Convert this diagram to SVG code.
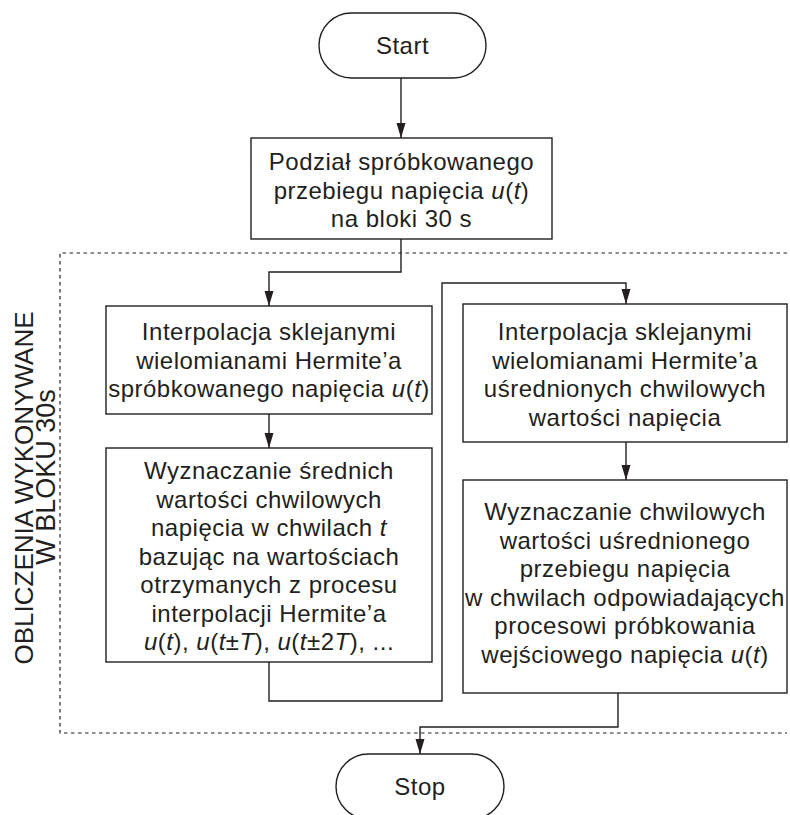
<svg xmlns="http://www.w3.org/2000/svg" width="790" height="815" viewBox="0 0 790 815">
  <defs>
    <marker id="arrow" markerUnits="userSpaceOnUse" markerWidth="15" markerHeight="10" refX="15" refY="4.5" orient="auto">
      <path d="M0,0 L15,4.5 L0,9 z" fill="#231f20"/>
    </marker>
    <style>
      .box { fill: #ffffff; stroke: #231f20; stroke-width: 1.4; }
      .link { fill: none; stroke: #231f20; stroke-width: 1.4; }
      .frame { fill: none; stroke: #231f20; stroke-width: 1.2; stroke-dasharray: 3.5 3.5; }
      .t { font-family: "Liberation Sans", Arial, sans-serif; font-size: 24px; letter-spacing: 0.5px; fill: #231f20; text-anchor: middle; }
      .side { font-family: "Liberation Sans", Arial, sans-serif; fill: #231f20; text-anchor: middle; }
      .i { font-style: italic; }
    </style>
  </defs>

  <rect width="790" height="815" fill="#ffffff"/>

  <!-- frame around the per-block computations -->
  <g id="block-frame">
    <path class="frame" d="M787,253 H60 V733 H787"/>
    <text class="side" font-size="26" transform="translate(33,488) rotate(-90)">OBLICZENIA WYKONYWANE</text>
    <text class="side" font-size="27" transform="translate(55,477) rotate(-90)">W BLOKU 30s</text>
  </g>

  <!-- connectors -->
  <g id="connectors">
    <path class="link" d="M401,78 V138" marker-end="url(#arrow)"/>
    <path class="link" d="M401,239 V272 H269 V306" marker-end="url(#arrow)"/>
    <path class="link" d="M269,414 V448" marker-end="url(#arrow)"/>
    <path class="link" d="M269,662 V701 H442 V283 H626 V304" marker-end="url(#arrow)"/>
    <path class="link" d="M626,442 V480" marker-end="url(#arrow)"/>
    <path class="link" d="M618,693 V727 H420 V754" marker-end="url(#arrow)"/>
  </g>

  <g id="start">
    <rect class="box" x="319" y="13" width="167" height="65" rx="32.5" ry="32.5"/>
    <text class="t" x="402.5" y="54">Start</text>
  </g>

  <g id="split">
    <rect class="box" x="251" y="138" width="301" height="101"/>
    <text class="t" x="401.5" y="170">Podział spróbkowanego</text>
    <text class="t" x="401.5" y="198.5">przebiegu napięcia <tspan class="i">u</tspan>(<tspan class="i">t</tspan>)</text>
    <text class="t" x="401.5" y="227">na bloki 30 s</text>
  </g>

  <g id="interp-sampled">
    <rect class="box" x="106" y="306" width="326" height="108"/>
    <text class="t" x="269" y="340">Interpolacja sklejanymi</text>
    <text class="t" x="269" y="368.5">wielomianami Hermite’a</text>
    <text class="t" x="269" y="397">spróbkowanego napięcia <tspan class="i">u</tspan>(<tspan class="i">t</tspan>)</text>
  </g>

  <g id="mean-values">
    <rect class="box" x="106" y="448" width="326" height="214"/>
    <text class="t" x="269" y="479">Wyznaczanie średnich</text>
    <text class="t" x="269" y="507.5">wartości chwilowych</text>
    <text class="t" x="269" y="536">napięcia w chwilach <tspan class="i">t</tspan></text>
    <text class="t" x="269" y="564.5">bazując na wartościach</text>
    <text class="t" x="269" y="593">otrzymanych z procesu</text>
    <text class="t" x="269" y="621.5">interpolacji Hermite’a</text>
    <text class="t" x="269" y="650"><tspan class="i">u</tspan>(<tspan class="i">t</tspan>), <tspan class="i">u</tspan>(<tspan class="i">t</tspan>±<tspan class="i">T</tspan>), <tspan class="i">u</tspan>(<tspan class="i">t</tspan>±2<tspan class="i">T</tspan>), ...</text>
  </g>

  <g id="interp-averaged">
    <rect class="box" x="463" y="304" width="324" height="138"/>
    <text class="t" x="625" y="340">Interpolacja sklejanymi</text>
    <text class="t" x="625" y="368.5">wielomianami Hermite’a</text>
    <text class="t" x="625" y="397">uśrednionych chwilowych</text>
    <text class="t" x="625" y="425.5">wartości napięcia</text>
  </g>

  <g id="resample">
    <rect class="box" x="463" y="480" width="324" height="213"/>
    <text class="t" x="625" y="520">Wyznaczanie chwilowych</text>
    <text class="t" x="625" y="548.5">wartości uśrednionego</text>
    <text class="t" x="625" y="577">przebiegu napięcia</text>
    <text class="t" x="625" y="605.5">w chwilach odpowiadających</text>
    <text class="t" x="625" y="634">procesowi próbkowania</text>
    <text class="t" x="625" y="662.5">wejściowego napięcia <tspan class="i">u</tspan>(<tspan class="i">t</tspan>)</text>
  </g>

  <g id="stop">
    <rect class="box" x="336" y="754" width="168" height="65" rx="32.5" ry="32.5"/>
    <text class="t" x="420" y="795">Stop</text>
  </g>
</svg>
